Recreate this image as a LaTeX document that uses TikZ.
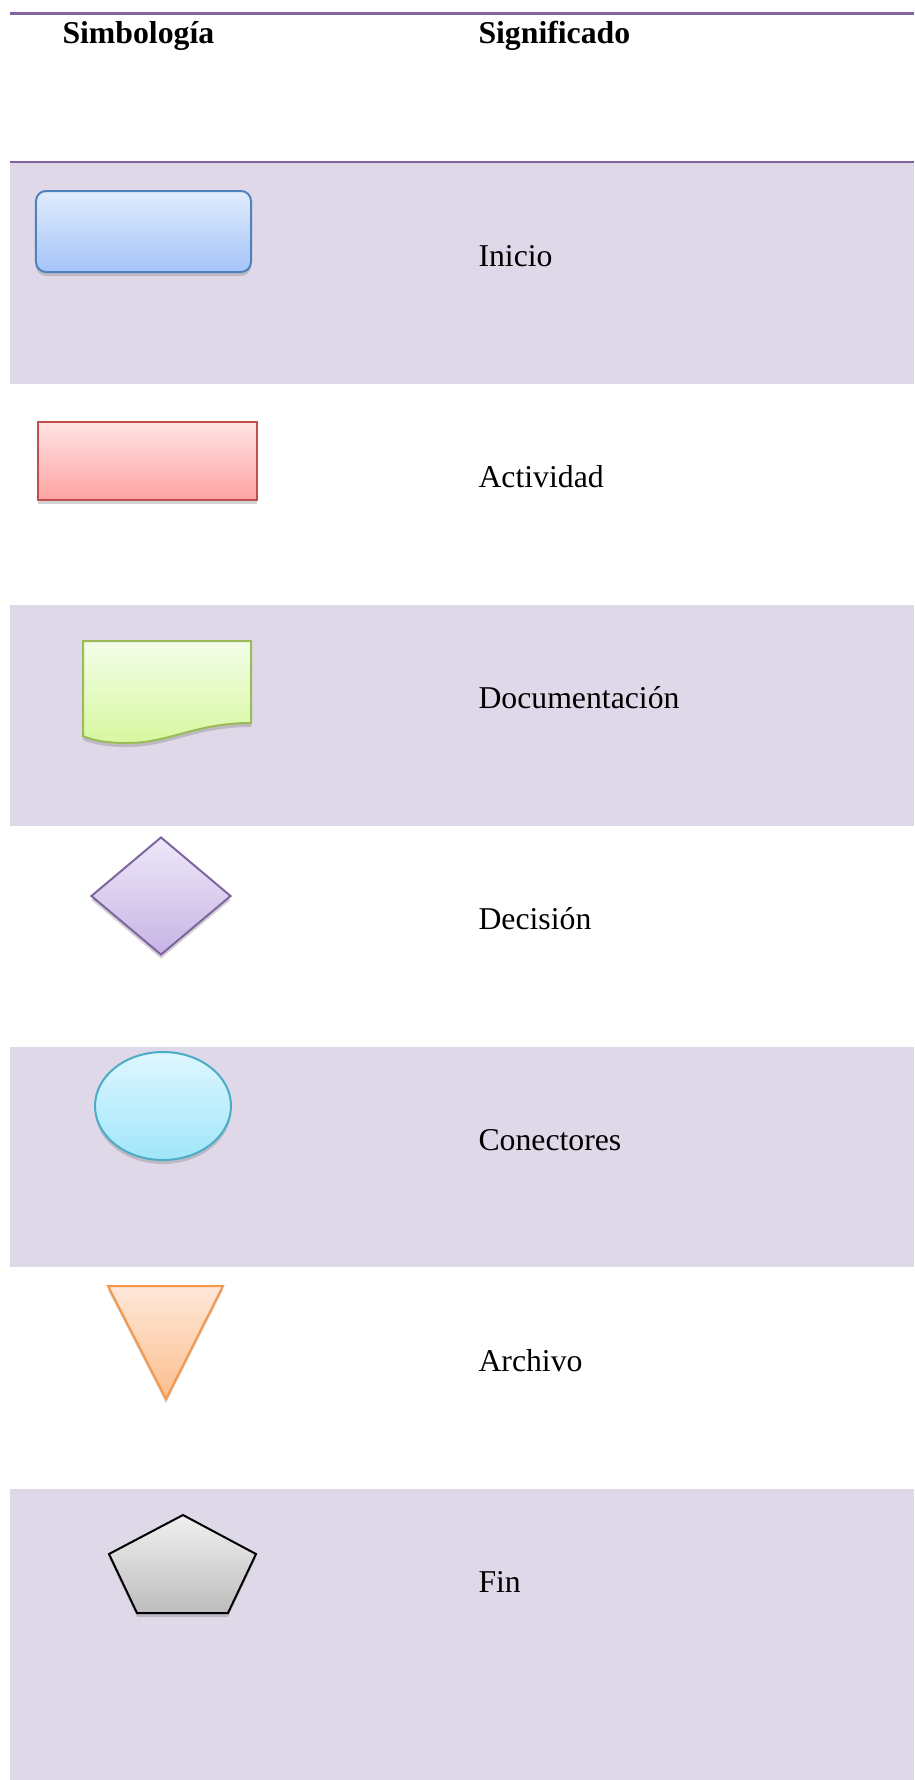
\documentclass[tikz,border=0pt]{standalone}
\usepackage{fontspec}
\setmainfont{Liberation Serif}
\usepackage{tikz}
\usepackage{xcolor}
\usetikzlibrary{positioning, shapes, shadows}

\definecolor{bandfill}{HTML}{DFD8E8}
\definecolor{rulecol}{HTML}{8064A2}
\definecolor{iniciotop}{HTML}{E1ECFD}
\definecolor{iniciobot}{HTML}{A4C4F8}
\definecolor{inicioline}{HTML}{4F81BD}
\definecolor{acttop}{HTML}{FFE3E3}
\definecolor{actbot}{HTML}{FFA3A3}
\definecolor{actline}{HTML}{C0504D}
\definecolor{doctop}{HTML}{F3FDE8}
\definecolor{docbot}{HTML}{D7F8A0}
\definecolor{docline}{HTML}{9BBB59}
\definecolor{dectop}{HTML}{EEE8F8}
\definecolor{decbot}{HTML}{C6B4E4}
\definecolor{decline}{HTML}{8064A2}
\definecolor{contop}{HTML}{DEF7FF}
\definecolor{conbot}{HTML}{A0E6FA}
\definecolor{conline}{HTML}{4BACC6}
\definecolor{archtop}{HTML}{FEE8D9}
\definecolor{archbot}{HTML}{FCBE8E}
\definecolor{archline}{HTML}{F79646}
\definecolor{fintop}{HTML}{F0F0F0}
\definecolor{finbot}{HTML}{BDBDBD}

\begin{document}
\begin{tikzpicture}[x=0.4pt, y=-0.4pt,
    band/.style={fill=bandfill},
    rowrule/.style={draw=rulecol, line width=1pt},
    symbol/.style={line width=0.8pt, drop shadow={shadow xshift=0pt, shadow yshift=-1.6pt, opacity=0.35}},
    meaning/.style={anchor=base west, inner sep=0pt, font=\fontsize{12.7}{15}\selectfont},
    heading/.style={anchor=base west, inner sep=0pt, font=\fontsize{12.7}{15}\selectfont\bfseries}]
                    \useasboundingbox (0,0) rectangle (914,1780);
                    \foreach \ya/\yb in {162/384, 605/826, 1047/1267, 1489/1780}
                        \fill[band] (10,\ya) rectangle (914,\yb);
                    \draw[rowrule] (10,13.6) -- (914,13.6);
                    \draw[rowrule] (10,162) -- (914,162);

                    \node[heading] (simb) at (62,43) {Simbología};
                    \node[heading] (signif) at (478,43) {Significado};

                    \node[symbol, rectangle, rounded corners=4pt, draw=inicioline, top color=iniciotop, bottom color=iniciobot, minimum width=86pt, minimum height=32.4pt] (inicio) at (143.5, 231.5) {};
                    \node[symbol, rectangle, draw=actline, top color=acttop, bottom color=actbot, minimum width=87.6pt, minimum height=31.2pt] (actividad) at (147.5, 461) {};
                    \draw[symbol, draw=docline, top color=doctop, bottom color=docbot] (83, 641) coordinate (docA) -- (251, 641) coordinate (docB) -- (251, 723) coordinate (docC) .. controls (195, 723) and (170, 743) .. (127, 743) .. controls (105, 743) and (92, 740) .. (83, 736) coordinate (docD) -- cycle;
                    \node[symbol, diamond, inner sep=0pt, draw=decline, top color=dectop, bottom color=decbot, minimum width=56pt, minimum height=47.2pt] (decision) at (161, 896) {};
                    \node[symbol, ellipse, inner sep=0pt, draw=conline, top color=contop, bottom color=conbot, minimum width=54.4pt, minimum height=43.2pt] (conector) at (163, 1106) {};
                    \draw[symbol, draw=archline, top color=archtop, bottom color=archbot] (108, 1286) coordinate (archA) -- (223, 1286) coordinate (archB) -- (166, 1399) coordinate (archC) -- cycle;
                    \draw[symbol, draw=black, top color=fintop, bottom color=finbot] (183, 1515) coordinate (finA) -- (256, 1554) coordinate (finB) -- (228, 1613) coordinate (finC) -- (137, 1613) coordinate (finD) -- (109, 1554) coordinate (finE) -- cycle;

                    \node[meaning] (tinicio) at (478, 266) {Inicio};
                    \node[meaning] (tactividad) at (478, 487) {Actividad};
                    \node[meaning] (tdoc) at (478, 708) {Documentación};
                    \node[meaning] (tdecision) at (478, 929) {Decisión};
                    \node[meaning] (tconector) at (478, 1150) {Conectores};
                    \node[meaning] (tarchivo) at (478, 1371) {Archivo};
                    \node[meaning] (tfin) at (478, 1592) {Fin};
                \end{tikzpicture}
\end{document}
